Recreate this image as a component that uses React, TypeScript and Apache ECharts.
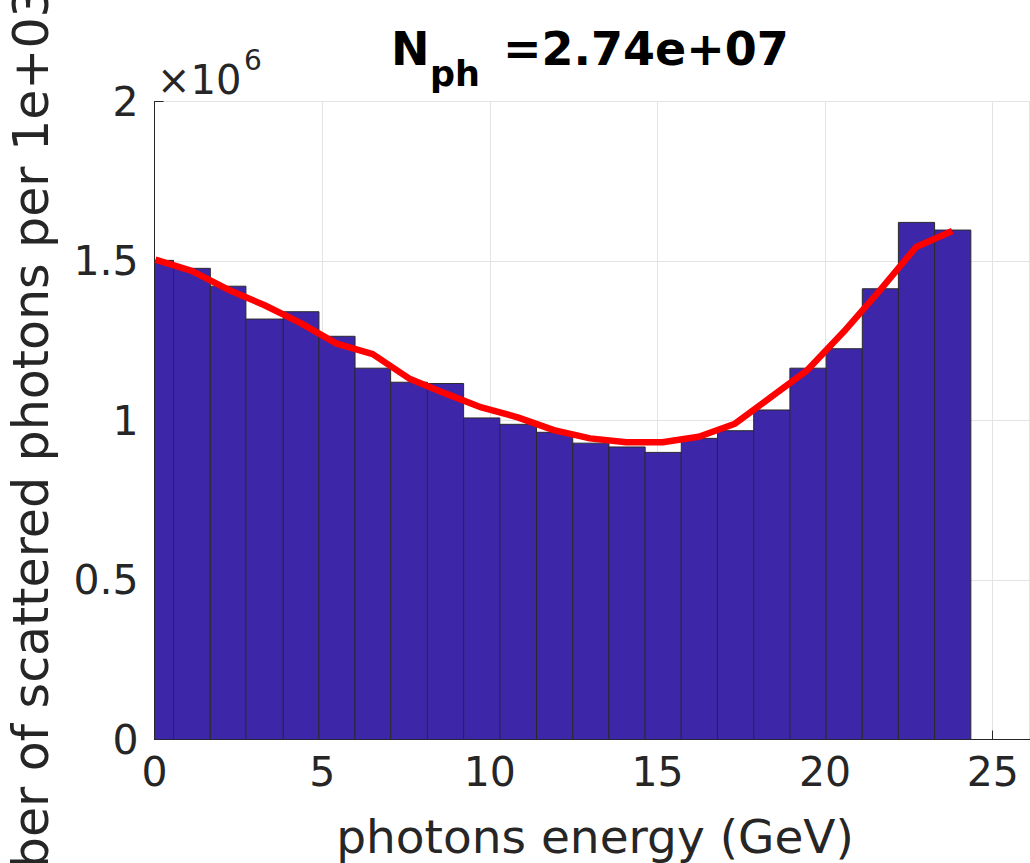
import React, { useEffect, useRef } from "react";
import * as echarts from "echarts";

// Histogram bin edges (GeV) and counts
const binEdges = [
  -0.516, 0.564, 1.662, 2.724, 3.84, 4.902, 5.979, 7.041, 8.138, 9.218, 10.298,
  11.393, 12.473, 13.553, 14.633, 15.71, 16.79, 17.87, 18.95, 20.03, 21.11,
  22.186, 23.266, 24.347,
];
const counts = [
  1502000, 1477000, 1421000, 1318000, 1341000, 1264000, 1164000, 1120000,
  1116000, 1008000, 988000, 963000, 929000, 917000, 900000, 944000, 968000,
  1033000, 1164000, 1225000, 1413000, 1621000, 1597000,
];
// Fitted curve (red)
const fitX = [
  0.024, 1.105, 2.185, 3.266, 4.346, 5.427, 6.507, 7.588, 8.668, 9.749, 10.829,
  11.91, 12.99, 14.071, 15.151, 16.232, 17.312, 18.393, 19.473, 20.554, 21.634,
  22.715, 23.795,
];
const fitY = [
  1504000, 1469000, 1411000, 1362000, 1306000, 1241000, 1208000, 1132000,
  1085000, 1041000, 1010000, 970000, 944000, 932000, 932000, 949000, 990000,
  1074000, 1158000, 1278000, 1408000, 1544000, 1594000,
];
const xTicks = [0, 5, 10, 15, 20, 25];
const yTickLabels = ["0", "0.5", "1", "1.5", "2"];

const titleMain = "N";
const titleSub = "ph";
const titleRest = "=2.74e+07";
const xName = "photons energy (GeV)";
const yName = "number of scattered photons per 1e+03";

const X_MIN = 0;
const X_MAX = 26.1;
const AX = "#262626";
const FONT = "DejaVu Sans";

export default function App() {
  const ref = useRef<HTMLDivElement>(null);
  useEffect(() => {
    if (!ref.current) return;
    const chart = echarts.init(ref.current, undefined, { renderer: "svg" });
    const option: any = {
      animation: false,
      backgroundColor: "#ffffff",
      grid: { left: 154.6, top: 101.5, width: 875, height: 638 },
      xAxis: {
        type: "value",
        min: X_MIN,
        max: X_MAX,
        interval: xTicks[1] - xTicks[0],
        axisLine: { show: true, lineStyle: { color: AX, width: 1 } },
        axisTick: { show: true, inside: true, length: 9, lineStyle: { color: AX } },
        axisLabel: {
          fontSize: 41,
          color: AX,
          fontFamily: FONT,
          margin: 12,
          showMaxLabel: false,
          formatter: (v: number) => (xTicks.includes(v) ? String(v) : ""),
        },
        splitLine: { show: true, lineStyle: { color: "#e3e3e3", width: 1 } },
      },
      yAxis: {
        type: "value",
        min: 0,
        max: 2000000,
        interval: 500000,
        axisLine: { show: true, lineStyle: { color: AX, width: 1 } },
        axisTick: { show: true, inside: true, length: 9, lineStyle: { color: AX } },
        axisLabel: {
          fontSize: 41,
          color: AX,
          fontFamily: FONT,
          margin: 16,
          formatter: (v: number) => yTickLabels[Math.round(v / 500000)] ?? "",
        },
        splitLine: { show: true, lineStyle: { color: "#e3e3e3", width: 1 } },
      },
      series: [
        {
          type: "custom",
          clip: true,
          z: 2,
          encode: { x: [0, 1], y: 2 },
          data: counts.map((c, i) => [binEdges[i], binEdges[i + 1], c]),
          renderItem: (params: any, api: any) => {
            const x0 = Math.max(api.value(0), X_MIN);
            const p0 = api.coord([x0, 0]);
            const p1 = api.coord([api.value(1), api.value(2)]);
            return {
              type: "rect",
              shape: {
                x: p0[0],
                y: p1[1],
                width: p1[0] - p0[0],
                height: p0[1] - p1[1],
              },
              style: { fill: "#3e26a8", stroke: "#2a2a2a", lineWidth: 1 },
            };
          },
        },
        {
          type: "line",
          z: 5,
          data: fitX.map((x, i) => [x, fitY[i]]),
          showSymbol: false,
          symbol: "none",
          smooth: false,
          lineStyle: { color: "#ff0000", width: 6.5, join: "round", cap: "butt" },
        },
      ],
      graphic: [
        {
          type: "text",
          x: 391,
          y: 49,
          style: {
            text: titleMain,
            font: `bold 46px "${FONT}"`,
            fill: "#000",
            textAlign: "left",
            textVerticalAlign: "middle",
          },
        },
        {
          type: "text",
          x: 430,
          y: 74,
          style: {
            text: titleSub,
            font: `bold 35px "${FONT}"`,
            fill: "#000",
            textAlign: "left",
            textVerticalAlign: "middle",
          },
        },
        {
          type: "text",
          x: 503,
          y: 49,
          style: {
            text: titleRest,
            font: `bold 46px "${FONT}"`,
            fill: "#000",
            textAlign: "left",
            textVerticalAlign: "middle",
          },
        },
        {
          type: "text",
          x: 157,
          y: 80,
          style: {
            text: "×10",
            font: `40px "${FONT}"`,
            fill: AX,
            textAlign: "left",
            textVerticalAlign: "middle",
          },
        },
        {
          type: "text",
          x: 244,
          y: 60,
          style: {
            text: "6",
            font: `28px "${FONT}"`,
            fill: AX,
            textAlign: "left",
            textVerticalAlign: "middle",
          },
        },
        {
          type: "text",
          x: 595,
          y: 836,
          style: {
            text: xName,
            font: `47px "${FONT}"`,
            fill: AX,
            textAlign: "center",
            textVerticalAlign: "middle",
          },
        },
        {
          type: "text",
          x: 31,
          y: 978,
          rotation: Math.PI / 2,
          style: {
            text: yName,
            font: `49px "${FONT}"`,
            fill: AX,
            textAlign: "left",
            textVerticalAlign: "middle",
          },
        },
      ],
    };
    chart.setOption(option);
    return () => chart.dispose();
  }, []);
  return (
    <div
      ref={ref}
      style={{ position: "fixed", left: 0, top: 0, width: 1030, height: 863 }}
    />
  );
}
